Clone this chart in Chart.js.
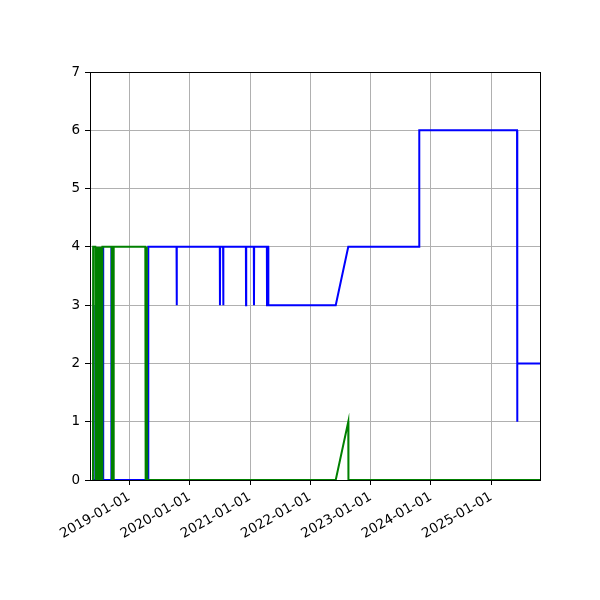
<!DOCTYPE html>
<html>
<head>
<meta charset="utf-8">
<script src="https://cdn.jsdelivr.net/npm/chart.js@4"></script>
<style>
  body { margin: 0; background: #fff; }
  #wrap { width: 600px; height: 600px; }
</style>
</head>
<body>
<div id="wrap"><canvas id="chart" width="600" height="600"></canvas></div>
<script>
// dates of each point
const blueDates = [
  '2018-05-26', '2018-06-08', '2018-06-09', '2018-06-10', '2018-07-25', '2018-07-26', '2018-07-27',
  '2018-09-13', '2018-09-14', '2018-09-15', '2019-04-25', '2019-04-26', '2019-10-14', '2019-10-15',
  '2019-10-16', '2020-07-02', '2020-07-03', '2020-07-04', '2020-07-22', '2020-07-23', '2020-07-24',
  '2020-12-07', '2020-12-08', '2020-12-09', '2021-01-24', '2021-01-25', '2021-01-26', '2021-04-13',
  '2021-04-14', '2021-04-15', '2021-04-21', '2021-04-22', '2022-06-04', '2022-08-19', '2023-10-22',
  '2023-10-23', '2025-06-06', '2025-06-07', '2025-06-08', '2025-10-23'
];
const blueValues = [
  0, 0, 3, 0, 0, 4, 0,
  0, 4, 0, 0, 4, 4, 3,
  4, 4, 3, 4, 4, 3, 4,
  4, 3, 4, 4, 3, 4, 4,
  3, 4, 4, 3, 3, 4, 4,
  6, 6, 1, 2, 2
];

const greenDates = [
  '2018-05-26', '2018-05-27', '2018-06-09', '2018-06-10', '2018-06-13', '2018-06-16', '2018-06-19',
  '2018-06-22', '2018-06-25', '2018-06-28', '2018-07-01', '2018-07-04', '2018-07-07', '2018-07-10',
  '2018-07-13', '2018-07-16', '2018-07-19', '2018-07-21', '2018-07-22', '2018-09-17', '2018-09-18',
  '2018-09-19', '2018-09-27', '2018-09-28', '2018-09-29', '2019-04-08', '2019-04-09', '2019-04-11',
  '2019-04-14', '2019-04-17', '2019-04-20', '2022-06-04', '2022-08-19', '2022-08-20', '2025-10-23'
];
const greenValues = [
  0, 4, 4, 0, 4, 0, 4,
  0, 4, 0, 4, 0, 4, 0,
  4, 0, 4, 0, 4, 4, 0,
  4, 4, 0, 4, 4, 0, 4,
  0, 4, 0, 0, 1, 0, 0
];

const tickLabels = ['2019-01-01', '2020-01-01', '2021-01-01', '2022-01-01', '2023-01-01', '2024-01-01', '2025-01-01'];
const xStart = '2018-05-08';
const xEnd = '2025-10-23';

function toPoints(dates, values) {
  return dates.map((d, i) => ({ x: Date.parse(d), y: values[i] }));
}

// top and right spines like matplotlib
const frame = {
  id: 'frame',
  afterDraw(chart) {
    const { ctx, chartArea: a } = chart;
    ctx.save();
    ctx.strokeStyle = '#000';
    ctx.lineWidth = 1;
    ctx.strokeRect(a.left + 0.5, a.top + 0.5, a.right - a.left, a.bottom - a.top);
    ctx.restore();
  }
};

const font = { family: 'DejaVu Sans', size: 13.5 };

new Chart(document.getElementById('chart'), {
  type: 'line',
  data: {
    datasets: [
      { data: toPoints(greenDates, greenValues), borderColor: '#008000', borderWidth: 2, pointRadius: 0, tension: 0, fill: false },
      { data: toPoints(blueDates, blueValues), borderColor: '#0000ff', borderWidth: 2, pointRadius: 0, tension: 0, fill: false }
    ]
  },
  options: {
    responsive: false,
    animation: false,
    layout: { padding: { top: 72, right: 60, left: 0, bottom: 0 } },
    plugins: { legend: { display: false }, tooltip: { enabled: false } },
    scales: {
      x: {
        type: 'linear',
        min: Date.parse(xStart),
        max: Date.parse(xEnd),
        afterBuildTicks(scale) {
          scale.ticks = tickLabels.map(t => ({ value: Date.parse(t) }));
        },
        afterFit(scale) { scale.height = 120; },
        grid: { color: '#b0b0b0', lineWidth: 1, tickColor: '#000', tickLength: 5 },
        border: { color: '#000', width: 1 },
        ticks: {
          autoSkip: false,
          minRotation: 30,
          maxRotation: 30,
          color: '#000',
          font: font,
          padding: 4,
          callback: v => new Date(v).toISOString().slice(0, 10)
        }
      },
      y: {
        min: 0,
        max: 7,
        afterFit(scale) { scale.width = 90; },
        grid: { color: '#b0b0b0', lineWidth: 1, tickColor: '#000', tickLength: 5 },
        border: { color: '#000', width: 1 },
        ticks: { stepSize: 1, color: '#000', font: font, padding: 5 }
      }
    }
  },
  plugins: [frame]
});
</script>
</body>
</html>
